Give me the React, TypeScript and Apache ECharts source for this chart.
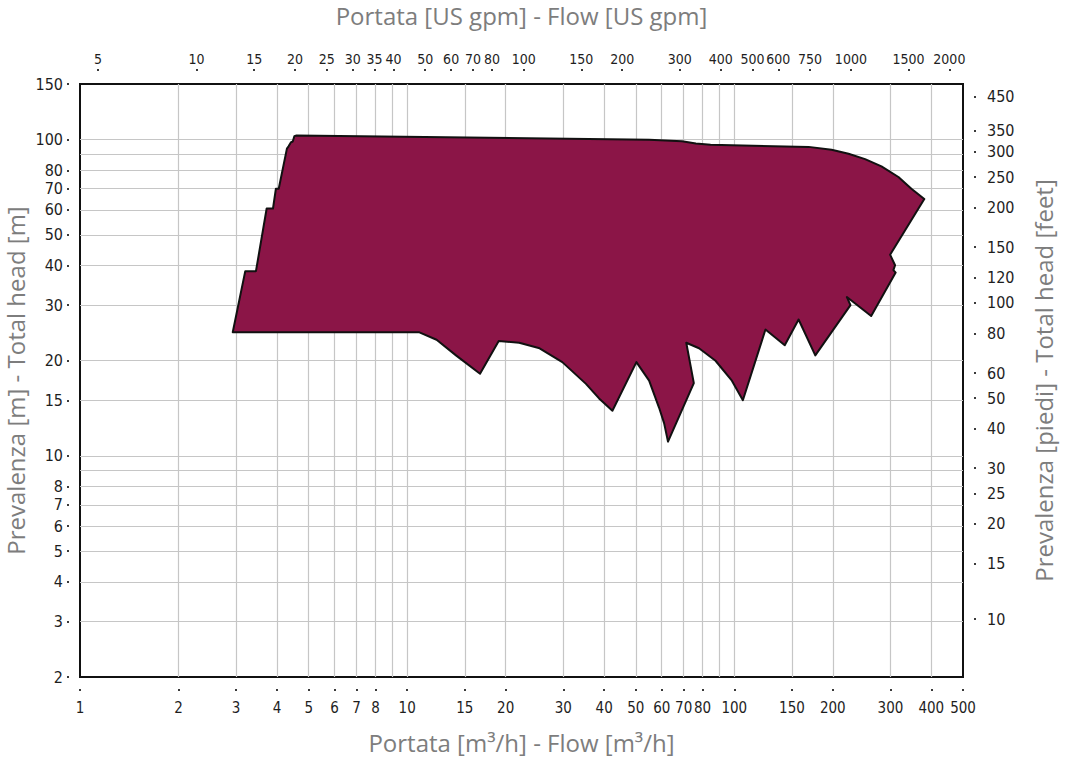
import { useEffect, useRef } from "react";
import * as echarts from "echarts";

// conversion factors
const GPM_PER_M3H = 4.40287;
const FT_PER_M = 1 / 0.3048;

// axis values
const flowLabels = [1, 2, 3, 4, 5, 6, 7, 8, 10, 15, 20, 30, 40, 50, 60, 70, 80, 100, 150, 200, 300, 400, 500];
const flowGrid = [2, 3, 4, 5, 6, 7, 8, 9, 10, 15, 20, 30, 40, 50, 60, 70, 80, 90, 100, 150, 200, 300, 400];
const gpmLabels = [5, 10, 15, 20, 25, 30, 35, 40, 50, 60, 70, 80, 100, 150, 200, 300, 400, 500, 600, 750, 1000, 1500, 2000];
const headLabels = [2, 3, 4, 5, 6, 7, 8, 10, 15, 20, 30, 40, 50, 60, 70, 80, 100, 150];
const headGrid = [3, 4, 5, 6, 7, 8, 9, 10, 15, 20, 30, 40, 50, 60, 70, 80, 90, 100];
const feetLabels = [10, 15, 20, 25, 30, 40, 50, 60, 80, 100, 120, 150, 200, 250, 300, 350, 450];

const flowMin = 1;
const flowMax = 500;
const headMin = 2;
const headMax = 150;

// operating envelope (m3/h, m)
const envelopeFlow = [
  2.93, 3.2, 3.45, 3.72, 3.89, 3.97, 4.05, 4.29, 4.34, 4.41, 4.47, 4.52, 4.59,
  54.9, 69.2, 76.3, 84.6, 168.7, 198.3, 223.4, 251, 281.7, 317.4, 347.7, 380.8,
  299.3, 310, 306.4, 311.3, 262, 220.8, 226.5, 176.8, 157.2, 142.6, 124.5,
  106.2, 98.3, 87.6, 78.0, 71.3, 75.2, 62.7, 61.0, 58.9, 54.9, 50.2,
  42.4, 38.6, 35.2, 29.8, 25.4, 22.0, 19.05, 16.7, 14.1, 12.3, 10.9,
];
const envelopeHead = [
  24.6, 38.4, 38.4, 60.6, 60.6, 70, 70, 93.7, 95.3, 98, 98.7, 102.6, 103.1,
  100, 98.8, 97.2, 96.3, 94.9, 93.0, 90.3, 86.8, 82.3, 76.2, 70, 64.9,
  43.3, 40.1, 38.7, 38.0, 27.7, 31.8, 30.0, 20.8, 27.0, 22.4, 25.1,
  15.0, 17.3, 20.0, 21.9, 22.8, 17.0, 11.1, 12.7, 14.2, 17.3, 19.8,
  13.9, 15.2, 16.9, 19.8, 21.9, 22.8, 23.1, 18.2, 20.8, 23.3, 24.6,
];

const lg = (v: number) => Math.log10(v);
const fmt = (v: number) => String(Math.round(Math.pow(10, v)));

const LABEL_FONT = '"Liberation Sans Narrow", "DejaVu Sans Condensed", "Open Sans", sans-serif';
const TITLE_FONT = '"Open Sans", "Noto Sans", sans-serif';
const labelStyle = { fontFamily: LABEL_FONT, fontSize: 16, color: "#1e1e1e" };
const nameStyle = { fontFamily: TITLE_FONT, fontSize: 24, color: "#7d7d7d" };
const gridLine = { show: true, lineStyle: { color: "#c6c6c6", width: 1.2 } };
const dotTick = { show: true, length: 2, lineStyle: { color: "#3a3a3a", width: 2 } };
const noLine = { show: false, onZero: false };
const hidden = { show: false };

export default function App() {
  const ref = useRef<HTMLDivElement>(null);
  useEffect(() => {
    if (!ref.current) return;
    const chart = echarts.init(ref.current, undefined, { renderer: "svg" });
    const pts = envelopeFlow.map((q, i) => [lg(q), lg(envelopeHead[i])]);
    chart.setOption({
      animation: false,
      backgroundColor: "#fff",
      grid: {
        left: 80,
        right: 103,
        top: 84,
        bottom: 89,
        containLabel: false,
        outerBoundsMode: "none",
        show: true,
        borderColor: "#111",
        borderWidth: 2,
        backgroundColor: "transparent",
      },
      xAxis: [
        {
          // grid lines + bottom title
          type: "value",
          position: "bottom",
          min: lg(flowMin),
          max: lg(flowMax),
          name: "Portata [m³/h] - Flow [m³/h]",
          nameLocation: "middle",
          nameGap: 53,
          nameTextStyle: nameStyle,
          axisLine: noLine,
          axisTick: { show: false, customValues: flowGrid.map(lg) },
          splitLine: gridLine,
          axisLabel: hidden,
        },
        {
          // m3/h tick dots + labels
          type: "value",
          position: "bottom",
          offset: 12,
          min: lg(flowMin),
          max: lg(flowMax),
          axisLine: noLine,
          axisTick: { ...dotTick, customValues: flowLabels.map(lg) },
          splitLine: hidden,
          axisLabel: {
            ...labelStyle,
            fontSize: 15,
            customValues: flowLabels.map(lg),
            formatter: (v: number) => fmt(v),
            margin: 11,
          },
        },
        {
          // US gpm
          type: "value",
          position: "top",
          offset: 13,
          min: lg(flowMin * GPM_PER_M3H),
          max: lg(flowMax * GPM_PER_M3H),
          name: "Portata [US gpm] - Flow [US gpm]",
          nameLocation: "middle",
          nameGap: 44,
          nameTextStyle: nameStyle,
          axisLine: noLine,
          axisTick: { ...dotTick, customValues: gpmLabels.map(lg) },
          splitLine: hidden,
          axisLabel: {
            ...labelStyle,
            fontSize: 14,
            customValues: gpmLabels.map(lg),
            formatter: (v: number) => fmt(v),
            margin: 5,
          },
        },
      ],
      yAxis: [
        {
          // grid lines + left title
          type: "value",
          position: "left",
          min: lg(headMin),
          max: lg(headMax),
          name: "Prevalenza [m] - Total head [m]",
          nameLocation: "middle",
          nameGap: 53,
          nameTextStyle: nameStyle,
          axisLine: noLine,
          axisTick: { show: false, customValues: headGrid.map(lg) },
          splitLine: gridLine,
          axisLabel: hidden,
        },
        {
          // metres tick dots + labels
          type: "value",
          position: "left",
          offset: 11,
          min: lg(headMin),
          max: lg(headMax),
          axisLine: noLine,
          axisTick: { ...dotTick, customValues: headLabels.map(lg) },
          splitLine: hidden,
          axisLabel: {
            ...labelStyle,
            customValues: headLabels.map(lg),
            formatter: (v: number) => fmt(v),
            margin: 6,
          },
        },
        {
          // feet
          type: "value",
          position: "right",
          offset: 11,
          min: lg(headMin * FT_PER_M),
          max: lg(headMax * FT_PER_M),
          name: "Prevalenza [piedi] - Total head [feet]",
          nameLocation: "middle",
          nameGap: 57,
          nameTextStyle: nameStyle,
          axisLine: noLine,
          axisTick: { ...dotTick, customValues: feetLabels.map(lg) },
          splitLine: hidden,
          axisLabel: {
            ...labelStyle,
            customValues: feetLabels.map(lg),
            formatter: (v: number) => fmt(v),
            margin: 13,
          },
        },
      ],
      series: [
        {
          type: "custom",
          xAxisIndex: 0,
          yAxisIndex: 0,
          data: pts,
          encode: { x: 0, y: 1 },
          renderItem: (params: any, api: any) => {
            if (params.dataIndex !== 0) return null;
            const points = pts.map((p) => api.coord(p));
            return {
              type: "polygon",
              shape: { points },
              style: { fill: "#8B1547", stroke: "#111", lineWidth: 2, lineJoin: "round" },
            };
          },
        },
      ],
    });
    return () => chart.dispose();
  }, []);
  return (
    <div
      ref={ref}
      style={{ position: "fixed", left: 0, top: 0, width: 1066, height: 766, background: "#fff" }}
    />
  );
}
